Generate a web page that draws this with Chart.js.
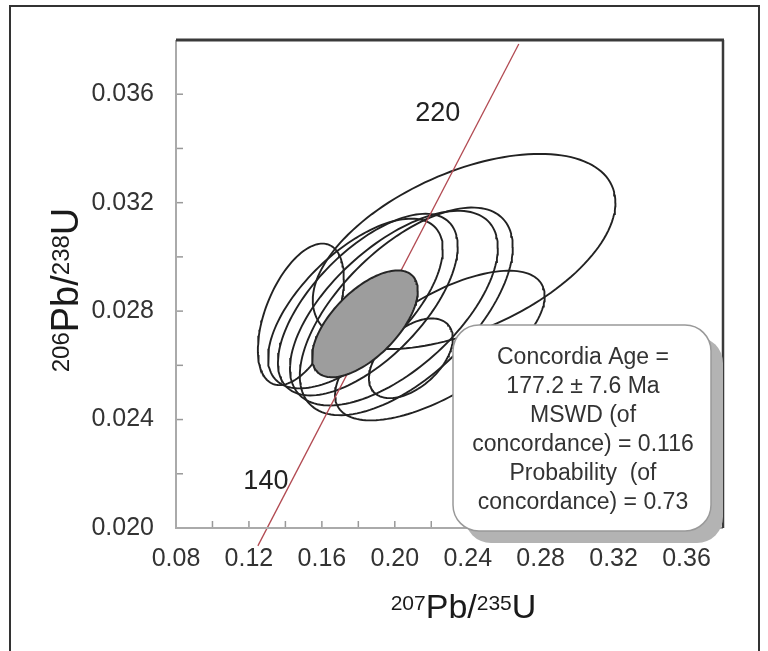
<!DOCTYPE html>
<html>
<head>
<meta charset="utf-8">
<script src="https://cdn.jsdelivr.net/npm/chart.js@4.4.1/dist/chart.umd.min.js"></script>
<style>
  html, body { margin: 0; padding: 0; background: #fff; }
  #wrap { width: 768px; height: 651px; }
</style>
</head>
<body>
<div id="wrap"><canvas id="c" width="768" height="651"></canvas></div>
<script>
// U-Pb コンコーディア図 - 値は図から読み取り

// 目盛り (ラベル付きの主目盛り)
const xTicks = [0.08, 0.12, 0.16, 0.20, 0.24, 0.28, 0.32, 0.36];
const yTicks = [0.020, 0.024, 0.028, 0.032, 0.036];

// 各分析点の誤差楕円: 中心, 半幅, 半高さ, 相関
const ellCX  = [0.2380, 0.1485, 0.1784, 0.1852, 0.1995, 0.2063, 0.2247, 0.2088];
const ellCY  = [0.03020, 0.02788, 0.02828, 0.02824, 0.02811, 0.02799, 0.02673, 0.02626];
const ellSX  = [0.0830, 0.0236, 0.0479, 0.0493, 0.0570, 0.0584, 0.0575, 0.0230];
const ellSY  = [0.00360, 0.00261, 0.00313, 0.00335, 0.00359, 0.00383, 0.00276, 0.00147];
const ellRho = [0.50, 0.50, 0.64, 0.64, 0.62, 0.62, 0.66, 0.50];

// コンコーディア年代の楕円 (灰色)
const ageCX = 0.1836, ageCY = 0.02753, ageSX = 0.0290, ageSY = 0.00197, ageRho = 0.62;

// コンコーディア曲線 (読み取り点)
const concX = [0.1249, 0.2680];
const concY = [0.01934, 0.03785];

// 年代ラベル
const ageLabels = ['140', '220'];
const ageLabelX = [0.1293, 0.2236];
const ageLabelY = [0.02173, 0.03527];

const boxLines = ['Concordia Age =', '177.2 \u00b1 7.6 Ma', 'MSWD (of',
                  'concordance) = 0.116', 'Probability  (of', 'concordance) = 0.73'];

const FONT = '"Liberation Sans", Arial, sans-serif';

function ellipsePts(cx, cy, sx, sy, r) {
  var pts = [], k = Math.sqrt(1 - r * r), n = 144;
  for (var i = 0; i <= n; i++) {
    var t = i / n * 2 * Math.PI;
    pts.push({x: cx + sx * Math.cos(t), y: cy + sy * (r * Math.cos(t) + k * Math.sin(t))});
  }
  return pts;
}

function isMajor(v, list) {
  return list.some(function(t) { return Math.abs(t - v) < 1e-9; });
}

function line(ctx, x1, y1, x2, y2) {
  ctx.beginPath(); ctx.moveTo(x1, y1); ctx.lineTo(x2, y2); ctx.stroke();
}

// 上付き文字付きのラベル
function supText(ctx, parts, big, small, rise) {
  var w = 0;
  parts.forEach(function(p) {
    ctx.font = (p[1] ? small : big) + 'px ' + FONT;
    p.w = ctx.measureText(p[0]).width; w += p.w;
  });
  var x = -w / 2;
  parts.forEach(function(p) {
    ctx.font = (p[1] ? small : big) + 'px ' + FONT;
    ctx.fillText(p[0], x, p[1] ? -rise : 0);
    x += p.w;
  });
}

function roundRect(ctx, x, y, w, h, r) {
  ctx.beginPath();
  ctx.moveTo(x + r, y);
  ctx.arcTo(x + w, y, x + w, y + h, r);
  ctx.arcTo(x + w, y + h, x, y + h, r);
  ctx.arcTo(x, y + h, x, y, r);
  ctx.arcTo(x, y, x + w, y, r);
  ctx.closePath();
}

const overlay = {
  id: 'overlay',
  beforeDraw: function(chart) {
    var ctx = chart.ctx;
    ctx.save();
    ctx.fillStyle = '#fff';
    ctx.fillRect(0, 0, chart.width, chart.height);
    ctx.strokeStyle = '#333';
    ctx.lineWidth = 2;
    ctx.beginPath();
    ctx.moveTo(10, 651); ctx.lineTo(10, 6); ctx.lineTo(759, 6); ctx.lineTo(759, 651);
    ctx.stroke();
    ctx.restore();
  },
  afterDraw: function(chart) {
    var ctx = chart.ctx, a = chart.chartArea, xs = chart.scales.x, ys = chart.scales.y;
    ctx.save();

    // 内向きの目盛り
    ctx.strokeStyle = '#999';
    ctx.lineWidth = 1.5;
    xs.ticks.forEach(function(t) {
      var px = xs.getPixelForValue(t.value);
      line(ctx, px, a.bottom, px, a.bottom - 7);
    });
    ys.ticks.forEach(function(t) {
      var py = ys.getPixelForValue(t.value);
      line(ctx, a.left, py, a.left + 7, py);
    });

    // 枠
    ctx.strokeStyle = '#aaa';
    ctx.lineWidth = 2;
    line(ctx, a.left, a.top, a.left, a.bottom + 1);
    line(ctx, a.left, a.bottom, a.right, a.bottom);
    ctx.strokeStyle = '#3a3a3a';
    ctx.lineWidth = 3;
    line(ctx, a.left, a.top, a.right + 1, a.top);
    ctx.lineWidth = 2.5;
    line(ctx, a.right, a.top, a.right, a.bottom);

    // 年代ラベル
    ctx.fillStyle = '#222';
    ctx.font = '27px ' + FONT;
    ctx.textAlign = 'center';
    ctx.textBaseline = 'middle';
    ageLabels.forEach(function(s, i) {
      ctx.fillText(s, xs.getPixelForValue(ageLabelX[i]), ys.getPixelForValue(ageLabelY[i]));
    });

    // 軸タイトル
    ctx.textAlign = 'left';
    ctx.textBaseline = 'alphabetic';
    ctx.fillStyle = '#1a1a1a';
    ctx.save();
    ctx.translate((a.left + a.right) / 2 + 14, 618);
    supText(ctx, [['207', true], ['Pb/', false], ['235', true], ['U', false]], 34, 21, 8);
    ctx.restore();
    ctx.save();
    ctx.translate(78, 290);
    ctx.rotate(-Math.PI / 2);
    supText(ctx, [['206', true], ['Pb/', false], ['238', true], ['U', false]], 38, 24, 9);
    ctx.restore();

    // 結果ボックス
    var bx = 453, by = 325, bw = 258, bh = 206, r = 26;
    ctx.fillStyle = '#b3b3b3';
    roundRect(ctx, bx + 12, by + 12, bw, bh, r);
    ctx.fill();
    ctx.fillStyle = '#fff';
    ctx.strokeStyle = '#999';
    ctx.lineWidth = 1.5;
    roundRect(ctx, bx, by, bw, bh, r);
    ctx.fill();
    ctx.stroke();
    ctx.fillStyle = '#333';
    ctx.font = '23px ' + FONT;
    ctx.textAlign = 'center';
    ctx.textBaseline = 'middle';
    boxLines.forEach(function(s, i) {
      ctx.fillText(s, bx + bw / 2 + 1, by + 33 + i * 29);
    });

    ctx.restore();
  }
};

var datasets = [];
datasets.push({
  label: 'age',
  data: ellipsePts(ageCX, ageCY, ageSX, ageSY, ageRho),
  showLine: true, pointRadius: 0,
  borderColor: '#262626', borderWidth: 2,
  backgroundColor: '#9d9d9d', fill: 'shape',
  order: 0
});
datasets.push({
  label: 'concordia',
  data: concX.map(function(x, i) { return {x: x, y: concY[i]}; }),
  showLine: true, pointRadius: 0,
  borderColor: '#b24a52', borderWidth: 1.3,
  clip: false, order: 1
});
ellCX.forEach(function(cx, i) {
  datasets.push({
    label: 'spot ' + (i + 1),
    data: ellipsePts(cx, ellCY[i], ellSX[i], ellSY[i], ellRho[i]),
    showLine: true, pointRadius: 0,
    borderColor: '#222', borderWidth: 1.9,
    fill: false, order: 2
  });
});

new Chart(document.getElementById('c').getContext('2d'), {
  type: 'scatter',
  data: {datasets: datasets},
  options: {
    responsive: false,
    animation: false,
    devicePixelRatio: 1,
    layout: {padding: {left: 0, top: 40, right: 45, bottom: 0}},
    plugins: {legend: {display: false}, tooltip: {enabled: false}},
    scales: {
      x: {
        type: 'linear', min: 0.08, max: 0.38,
        afterFit: function(s) { s.height = 123; },
        grid: {display: false, drawTicks: false},
        border: {display: false},
        ticks: {
          stepSize: 0.02, autoSkip: false, maxRotation: 0, padding: 16,
          color: '#333', font: {family: FONT, size: 25},
          callback: function(v) { return isMajor(v, xTicks) ? v.toFixed(2) : ''; }
        }
      },
      y: {
        type: 'linear', min: 0.020, max: 0.038,
        afterFit: function(s) { s.width = 176; },
        grid: {display: false, drawTicks: false},
        border: {display: false},
        ticks: {
          stepSize: 0.002, autoSkip: false, padding: 22,
          color: '#333', font: {family: FONT, size: 25},
          callback: function(v) { return isMajor(v, yTicks) ? v.toFixed(3) : ''; }
        }
      }
    }
  },
  plugins: [overlay]
});
</script>
</body>
</html>
